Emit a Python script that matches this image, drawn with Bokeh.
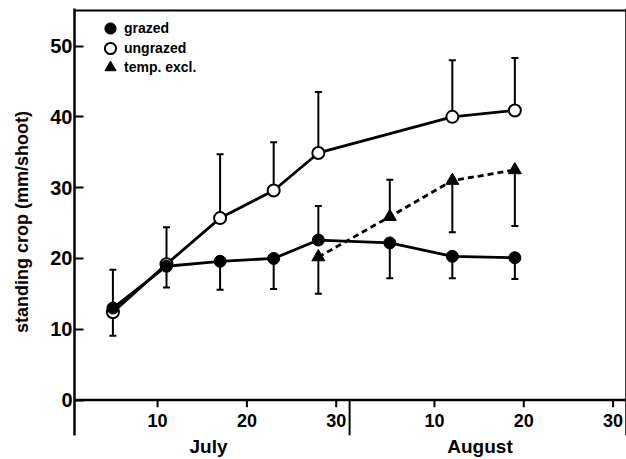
from bokeh.plotting import figure
from bokeh.models import Range1d, FixedTicker, Legend, LegendItem
from bokeh.core.properties import value
from bokeh.embed import file_html
from bokeh.resources import INLINE

# ---- data (x = day of season: July d -> d, August d -> 31 + d) ----
def day(month, d):
    return d if month == "Jul" else 31 + d

grazed_dates = [("Jul", 5), ("Jul", 11), ("Jul", 17), ("Jul", 23), ("Jul", 28), ("Aug", 5), ("Aug", 12), ("Aug", 19)]
grazed_vals = [13.0, 18.9, 19.6, 20.0, 22.6, 22.2, 20.3, 20.1]
grazed_err_lo = [9.1, 15.9, 15.6, 15.7, None, 17.2, 17.2, 17.1]
grazed_err_hi = [None, None, None, None, 27.4, None, None, None]

ungrazed_dates = [("Jul", 5), ("Jul", 11), ("Jul", 17), ("Jul", 23), ("Jul", 28), ("Aug", 12), ("Aug", 19)]
ungrazed_vals = [12.4, 19.2, 25.7, 29.6, 34.9, 40.0, 40.9]
ungrazed_err_lo = [None, None, None, None, None, None, None]
ungrazed_err_hi = [18.4, 24.4, 34.7, 36.4, 43.5, 48.0, 48.3]

temp_dates = [("Jul", 28), ("Aug", 5), ("Aug", 12), ("Aug", 19)]
temp_vals = [20.2, 25.9, 31.0, 32.5]
temp_err_lo = [15.0, None, 23.7, 24.6]
temp_err_hi = [None, 31.1, None, None]

legend_labels = ["grazed", "ungrazed", "temp. excl."]

y_ticks = [0, 10, 20, 30, 40, 50]
x_tick_pos = [10, 20, 30, 41, 51, 61]
x_tick_labels = ["10", "20", "30", "10", "20", "30"]
month_pos = [15.7, 46.1]
month_labels = ["July", "August"]
month_boundary = 31.5
x_start, x_end = 0.7, 62.5
y_start, y_end = -5, 55.3
y_top_line = 55

FONT = "Liberation Sans"

p = figure(width=626, height=459,
           x_range=Range1d(x_start, x_end), y_range=Range1d(y_start, y_end),
           output_backend="svg", toolbar_location=None,
           min_border_left=74, min_border_right=0, min_border_top=8, min_border_bottom=21,
           background_fill_color="white", border_fill_color="white",
           outline_line_color=None)
p.grid.visible = False

# y axis
ya = p.yaxis[0]
ya.ticker = FixedTicker(ticks=y_ticks)
ya.major_tick_in = 9
ya.major_tick_out = 0
ya.minor_tick_line_color = None
ya.major_tick_line_width = 2
ya.axis_line_width = 2.5
ya.major_label_standoff = 2
ya.major_label_text_font = FONT
ya.major_label_text_font_style = "bold"
ya.major_label_text_font_size = "20px"
ya.major_label_text_color = "black"
ya.axis_label = "standing crop (mm/shoot)"
ya.axis_label_text_font = FONT
ya.axis_label_text_font_style = "bold"
ya.axis_label_text_font_size = "18px"
ya.axis_label_text_color = "black"
ya.axis_label_standoff = 15

# x axis used for the month names only
xa = p.xaxis[0]
xa.ticker = FixedTicker(ticks=month_pos)
xa.major_label_overrides = {k: v for k, v in zip(month_pos, month_labels)}
xa.axis_line_color = None
xa.major_tick_line_color = None
xa.minor_tick_line_color = None
xa.major_tick_out = 0
xa.major_tick_in = 0
xa.major_label_standoff = 0
xa.major_label_text_font = FONT
xa.major_label_text_font_style = "bold"
xa.major_label_text_font_size = "19px"
xa.major_label_text_color = "black"

# drawn axis line at y = 0, frame lines, month separator
p.segment(x0=[x_start], y0=[0], x1=[x_end], y1=[0], line_color="black", line_width=2.5)
p.segment(x0=[x_start], y0=[y_top_line], x1=[x_end], y1=[y_top_line], line_color="black", line_width=2)
p.segment(x0=[x_end], y0=[y_start], x1=[x_end], y1=[y_end], line_color="black", line_width=2.5)
p.segment(x0=[month_boundary], y0=[0], x1=[month_boundary], y1=[y_start], line_color="black", line_width=2)

# x ticks and labels
p.segment(x0=x_tick_pos, y0=[0] * len(x_tick_pos), x1=x_tick_pos, y1=[-1.0] * len(x_tick_pos),
          line_color="black", line_width=2)
p.text(x=x_tick_pos, y=[-1.9] * len(x_tick_pos), text=x_tick_labels,
       text_font=value(FONT), text_font_style="bold", text_font_size="18px",
       text_align="center", text_baseline="top", text_color="black")


def errbars(dates, vals, lo, hi):
    xs, y0s, y1s = [], [], []
    for (m, d), v, l, h in zip(dates, vals, lo, hi):
        for e in (l, h):
            if e is not None:
                xs.append(day(m, d))
                y0s.append(v)
                y1s.append(e)
    p.segment(x0=xs, y0=y0s, x1=xs, y1=y1s, line_color="black", line_width=2)
    p.scatter(x=xs, y=y1s, marker="dash", size=7, line_color="black", line_width=2)


for dates, vals, lo, hi in [(ungrazed_dates, ungrazed_vals, ungrazed_err_lo, ungrazed_err_hi),
                            (grazed_dates, grazed_vals, grazed_err_lo, grazed_err_hi),
                            (temp_dates, temp_vals, temp_err_lo, temp_err_hi)]:
    errbars(dates, vals, lo, hi)

gx = [day(m, d) for m, d in grazed_dates]
ux = [day(m, d) for m, d in ungrazed_dates]
tx = [day(m, d) for m, d in temp_dates]

p.line(ux, ungrazed_vals, line_color="black", line_width=2.8)
p.line(gx, grazed_vals, line_color="black", line_width=2.8)
p.line(tx, temp_vals, line_color="black", line_width=2.8, line_dash="6 4")

r_t = p.scatter(tx, temp_vals, marker="triangle", size=13, fill_color="black", line_color="black", line_width=1)
r_u = p.scatter(ux, ungrazed_vals, marker="circle", size=12, fill_color="white", line_color="black", line_width=2)
r_g = p.scatter(gx, grazed_vals, marker="circle", size=12, fill_color="black", line_color="black", line_width=1)

# one legend box per entry so the rows can sit closer than the glyph box
for i, (lab, r) in enumerate(zip(legend_labels, [r_g, r_u, r_t])):
    leg = Legend(items=[LegendItem(label=lab, renderers=[r])],
                 location=(22, 393 - 19.5 * i), margin=0, padding=0, spacing=0,
                 glyph_width=28, glyph_height=28, label_standoff=0,
                 label_text_font=FONT, label_text_font_style="bold",
                 label_text_font_size="14px", label_text_color="black",
                 background_fill_alpha=0, border_line_color=None)
    p.add_layout(leg)

open("out.html", "w").write(file_html(p, INLINE))
